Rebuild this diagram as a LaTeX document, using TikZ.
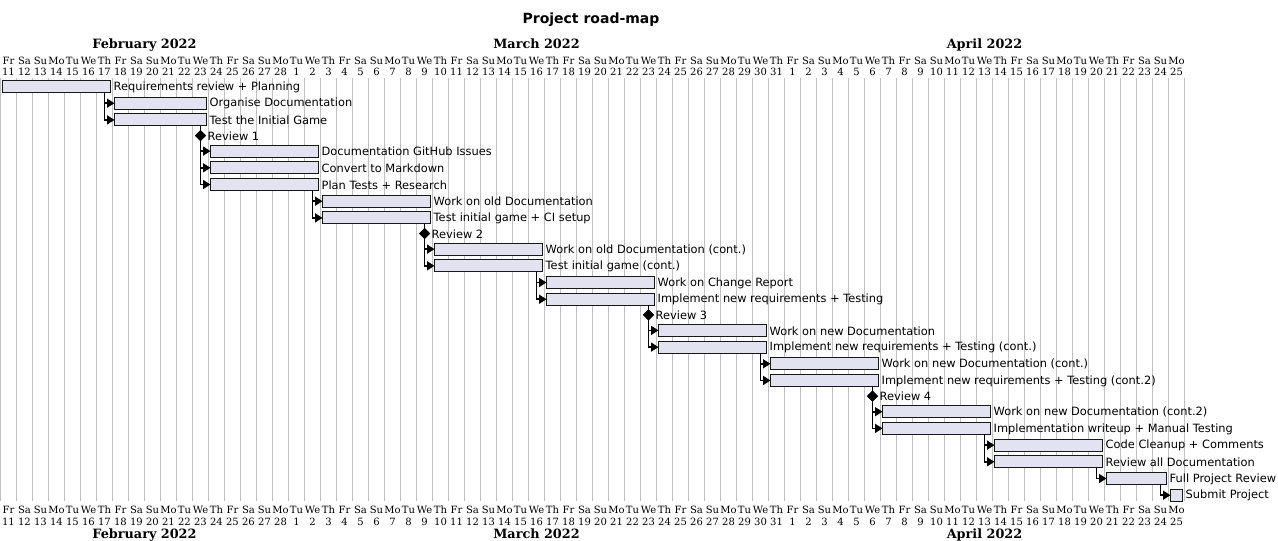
\documentclass[tikz,border=0pt]{standalone}
\usepackage{fontspec}
\setmainfont{DejaVu Sans}
\newfontfamily\dayfont{DejaVu Serif}
\usetikzlibrary{shapes.geometric,arrows.meta}
\definecolor{gridc}{RGB}{192,192,192}
\definecolor{barfill}{HTML}{E2E2F0}
\definecolor{barline}{HTML}{181818}
\tikzset{
  gridline/.style={draw=gridc, line width=0.8pt},
  bar/.style={draw=barline, fill=barfill, line width=1pt, minimum height=12pt, inner sep=0pt, outer sep=0pt},
  ms/.style={diamond, fill=black, minimum width=11pt, minimum height=11pt, inner sep=0pt, outer sep=0pt},
  lbl/.style={anchor=west, inner sep=3pt, font=\fontsize{11.4}{12}\selectfont},
  mslbl/.style={anchor=west, inner sep=1.5pt, font=\fontsize{11.4}{12}\selectfont},
  conn/.style={draw=black, line width=1.6pt, -{Triangle[length=7.5pt,width=9pt]}},
  link/.style={draw=black, line width=1.6pt},
  daylbl/.style={inner sep=0pt, anchor=base, font=\dayfont\fontsize{10}{10}\selectfont},
  monthlbl/.style={inner sep=0pt, anchor=base, font=\dayfont\bfseries\fontsize{12.8}{13}\selectfont},
  titlelbl/.style={inner sep=0pt, anchor=base, font=\bfseries\fontsize{14}{15}\selectfont}
}
\newcommand\tsk[5]{%
  \node[bar, minimum width={(#3*16-4)*1pt}, anchor=west] (#1) at ({#2*16+2.5},#4) {};
  \node[lbl] (#1l) at ([yshift=-0.5pt]#1.east) {#5};
}
\newcommand\mstone[4]{%
  \node[ms] (#1) at ({#2*16+8.5},#3) {};
  \node[mslbl] (#1l) at ([yshift=-0.5pt]#1.east) {#4};
}
\begin{document}
\begin{tikzpicture}[x=1pt,y=-1pt]
\useasboundingbox (0,0) rectangle (1278,541);
\fill[white] (0,0) rectangle (1278,541);
% grid
\foreach \i in {0,...,74} {
  \draw[gridline] ({\i*16+0.5},78) -- ({\i*16+0.5},501);
}
% day labels
\foreach \i in {0,...,73} {
  \pgfmathsetmacro\dn{{"Fr","Sa","Su","Mo","Tu","We","Th"}[mod(\i,7)]}
  \pgfmathtruncatemacro\dd{\i<18 ? \i+11 : (\i<49 ? \i-17 : \i-48)}
  \node[daylbl] (dnt\i) at ({\i*16+8.5},64.5) {\dn};
  \node[daylbl] (ddt\i) at ({\i*16+8.5},75.5) {\dd};
  \node[daylbl] (dnb\i) at ({\i*16+8.5},513.5) {\dn};
  \node[daylbl] (ddb\i) at ({\i*16+8.5},525) {\dd};
}
% months
\node[monthlbl] (mft) at (144.5,48.5) {February 2022};
\node[monthlbl] (mmt) at (536.5,48.5) {March 2022};
\node[monthlbl] (mat) at (984.5,48.5) {April 2022};
\node[monthlbl] (mfb) at (144.5,538) {February 2022};
\node[monthlbl] (mmb) at (536.5,538) {March 2022};
\node[monthlbl] (mab) at (984.5,538) {April 2022};
% title
\node[titlelbl] (title) at (591,23) {Project road-map};
% tasks
\tsk{t1}{0}{7}{86.5}{Requirements review + Planning}
\tsk{t2}{7}{6}{103.2}{Organise Documentation}
\tsk{t3}{7}{6}{119.9}{Test the Initial Game}
\tsk{t5}{13}{7}{151.1}{Documentation GitHub Issues}
\tsk{t6}{13}{7}{167.8}{Convert to Markdown}
\tsk{t7}{13}{7}{184.5}{Plan Tests + Research}
\tsk{t8}{20}{7}{201.2}{Work on old Documentation}
\tsk{t9}{20}{7}{217.9}{Test initial game + CI setup}
\tsk{t11}{27}{7}{249.1}{Work on old Documentation (cont.)}
\tsk{t12}{27}{7}{265.8}{Test initial game (cont.)}
\tsk{t13}{34}{7}{282.5}{Work on Change Report}
\tsk{t14}{34}{7}{299.2}{Implement new requirements + Testing}
\tsk{t16}{41}{7}{330.4}{Work on new Documentation}
\tsk{t17}{41}{7}{347.1}{Implement new requirements + Testing (cont.)}
\tsk{t18}{48}{7}{363.8}{Work on new Documentation (cont.)}
\tsk{t19}{48}{7}{380.5}{Implement new requirements + Testing (cont.2)}
\tsk{t21}{55}{7}{411.7}{Work on new Documentation (cont.2)}
\tsk{t22}{55}{7}{428.4}{Implementation writeup + Manual Testing}
\tsk{t23}{62}{7}{445.1}{Code Cleanup + Comments}
\tsk{t24}{62}{7}{461.8}{Review all Documentation}
\tsk{t25}{69}{4}{478.5}{Full Project Review}
\tsk{t26}{73}{1}{495.2}{Submit Project}
% milestones
\mstone{m1}{12}{135.5}{Review 1}
\mstone{m2}{26}{233.5}{Review 2}
\mstone{m3}{40}{314.8}{Review 3}
\mstone{m4}{54}{396.1}{Review 4}
% connectors
\draw[conn] ([xshift=-6pt]t1.south east) |- (t2.west);
\draw[conn] ([xshift=-6pt]t1.south east) |- (t3.west);
\draw[link] ([xshift=-6pt]t3.south east) -- (m1.center);
\draw[conn] ([xshift=-6pt]t7.south east) |- (t8.west);
\draw[conn] ([xshift=-6pt]t7.south east) |- (t9.west);
\draw[link] ([xshift=-6pt]t9.south east) -- (m2.center);
\draw[conn] ([xshift=-6pt]t12.south east) |- (t13.west);
\draw[conn] ([xshift=-6pt]t12.south east) |- (t14.west);
\draw[link] ([xshift=-6pt]t14.south east) -- (m3.center);
\draw[conn] ([xshift=-6pt]t17.south east) |- (t18.west);
\draw[conn] ([xshift=-6pt]t17.south east) |- (t19.west);
\draw[link] ([xshift=-6pt]t19.south east) -- (m4.center);
\draw[conn] ([xshift=-6pt]t22.south east) |- (t23.west);
\draw[conn] ([xshift=-6pt]t22.south east) |- (t24.west);
\draw[conn] ([xshift=-6pt]t24.south east) |- (t25.west);
\draw[conn] ([xshift=-6pt]t25.south east) |- (t26.west);
\draw[conn] (m1.center) |- (t5.west);
\draw[conn] (m1.center) |- (t6.west);
\draw[conn] (m1.center) |- (t7.west);
\draw[conn] (m2.center) |- (t11.west);
\draw[conn] (m2.center) |- (t12.west);
\draw[conn] (m3.center) |- (t16.west);
\draw[conn] (m3.center) |- (t17.west);
\draw[conn] (m4.center) |- (t21.west);
\draw[conn] (m4.center) |- (t22.west);
\node[ms] (m1b) at (m1) {};
\node[ms] (m2b) at (m2) {};
\node[ms] (m3b) at (m3) {};
\node[ms] (m4b) at (m4) {};
\end{tikzpicture}
\end{document}
